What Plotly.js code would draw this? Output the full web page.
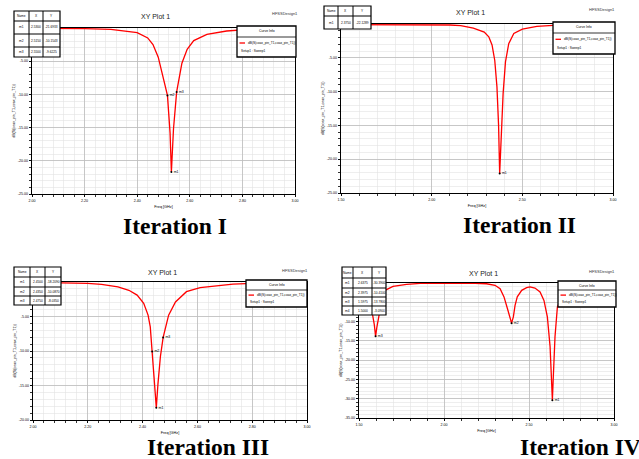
<!DOCTYPE html>
<html><head><meta charset="utf-8">
<script src="https://cdn.plot.ly/plotly-3.0.1.min.js"></script>
<style>html,body{margin:0;padding:0;background:#fff;overflow:hidden}#chart{width:639px;height:459px}</style>
</head><body><div id="chart"></div>
<script>
// ---------- data ----------
// Iteration I
const freq1 = [2.00, 2.10, 2.20, 2.30, 2.35, 2.40, 2.44, 2.46, 2.48, 2.50, 2.515, 2.525, 2.530, 2.538, 2.550, 2.57, 2.59, 2.615, 2.665, 2.74, 2.80, 2.90, 3.00];
const s11_1 = [-0.05, -0.06, -0.1, -0.2, -0.4, -0.7, -1.5, -2.5, -4.4, -7.8, -10.15, -15.8, -21.69, -15.2, -9.62, -5.3, -3.2, -1.9, -0.95, -0.45, -0.28, -0.15, -0.1];
const mkName1 = ['m1', 'm2', 'm3'];
const mkX1 = [2.5300, 2.5150, 2.5500];
const mkY1 = [-21.6933, -10.1543, -9.6225];
const xt1 = [2.0, 2.2, 2.4, 2.6, 2.8, 3.0];
const yt1 = [-5, -10, -15, -20, -25];

// Iteration II
const freq2 = [1.50, 1.70, 1.90, 2.00, 2.10, 2.16, 2.23, 2.29, 2.315, 2.333, 2.348, 2.360, 2.369, 2.375, 2.384, 2.394, 2.407, 2.425, 2.453, 2.50, 2.58, 2.67, 2.80, 3.00];
const s11_2 = [-0.1, -0.1, -0.1, -0.1, -0.15, -0.25, -0.6, -1.2, -1.9, -3.1, -5.4, -9.3, -15.0, -22.13, -16.2, -10.3, -5.6, -2.9, -1.4, -0.75, -0.35, -0.2, -0.12, -0.1];
const mkName2 = ['m1'];
const mkX2 = [2.3750];
const mkY2 = [-22.1289];
const xt2 = [1.5, 2.0, 2.5, 3.0];
const yt2 = [-5, -10, -15, -20, -25];

// Iteration III
const freq3 = [2.00, 2.12, 2.20, 2.25, 2.31, 2.35, 2.38, 2.404, 2.42, 2.428, 2.435, 2.443, 2.450, 2.456, 2.465, 2.475, 2.495, 2.52, 2.56, 2.61, 2.67, 2.73, 2.80, 2.90, 3.00];
const s11_3 = [-0.05, -0.1, -0.2, -0.35, -0.7, -1.2, -1.9, -3.1, -4.8, -6.5, -10.09, -14.0, -18.21, -14.8, -10.8, -8.03, -4.8, -2.9, -1.4, -0.8, -0.5, -0.3, -0.2, -0.12, -0.1];
const mkName3 = ['m1', 'm2', 'm3'];
const mkX3 = [2.4500, 2.4350, 2.4750];
const mkY3 = [-18.2090, -10.0870, -8.0350];
const xt3 = [2.0, 2.2, 2.4, 2.6, 2.8, 3.0];
const yt3 = [-5, -10, -15, -20];

// Iteration IV
const freq4 = [1.50, 1.54, 1.565, 1.58, 1.59, 1.5975, 1.605, 1.62, 1.633, 1.653, 1.70, 1.78, 1.86, 2.00, 2.15, 2.25, 2.30, 2.33, 2.353, 2.373, 2.388, 2.3975, 2.408, 2.418, 2.431, 2.457, 2.486, 2.506, 2.535, 2.565, 2.588, 2.608, 2.624, 2.633, 2.6375, 2.643, 2.653, 2.667, 2.70, 2.75, 2.85, 3.00];
const s11_4 = [-3.09, -4.6, -6.5, -8.3, -10.8, -13.78, -11.5, -7.9, -3.6, -1.9, -0.9, -0.35, -0.1, 0, 0, -0.2, -0.6, -1.5, -3.6, -6.6, -9.2, -10.41, -8.8, -5.8, -3.6, -1.9, -1.2, -1.0, -1.3, -2.3, -4.5, -8.8, -16.5, -26.0, -30.39, -24.3, -13.9, -6.2, -3.0, -1.5, -0.7, -0.4];
const mkName4 = ['m1', 'm2', 'm3', 'm4'];
const mkX4 = [2.6375, 2.3975, 1.5975, 1.5000];
const mkY4 = [-30.3900, -10.4100, -13.7800, -3.0900];
const xt4 = [1.5, 2.0, 2.5, 3.0];
const yt4 = [-5, -10, -15, -20, -25, -30, -35];

const captions = ['Iteration I', 'Iteration II', 'Iteration III', 'Iteration IV'];
const curveName = 'dB(S(coax_pin_T1,coax_pin_T1))';

// ---------- helpers (pixel -> paper) ----------
const W = 639, H = 459;
const px = x => x / W;
const py = y => 1 - y / H;
const FONT = 'Arial, Liberation Sans, sans-serif';
function ann(x, y, text, size, opts) {
  return Object.assign({xref: 'paper', yref: 'paper', x: px(x), y: py(y), text: text, showarrow: false,
    xanchor: 'center', yanchor: 'middle', font: {size: size, family: FONT, color: '#000'}}, opts || {});
}

const panels = [
  {f: freq1, s: s11_1, mn: mkName1, mx: mkX1, my: mkY1, xt: xt1, yt: yt1, xr: [2, 3], yr: [-25, 0], xminor: 0.04,
   box: [32, 295, 28, 194], title: [155, 16], design: [300, 14],
   table: {x: [14, 29, 43, 60], y: [11, 21, 34, 47, 57]},
   legend: [237, 296, 26, 57, 37], cap: [175, 226]},
  {f: freq2, s: s11_2, mn: mkName2, mx: mkX2, my: mkY2, xt: xt2, yt: yt2, xr: [1.5, 3], yr: [-25, 0], xminor: 0.1,
   box: [341, 613, 24, 193], title: [470, 12], design: [617, 10],
   table: {x: [324, 338, 353, 371], y: [6, 16, 29]},
   legend: [553, 615, 22, 54, 33], cap: [519, 225]},
  {f: freq3, s: s11_3, mn: mkName3, mx: mkX3, my: mkY3, xt: xt3, yt: yt3, xr: [2, 3], yr: [-20, 0], xminor: 0.04,
   box: [33, 307, 282, 420], title: [162, 272], design: [310, 270],
   table: {x: [14, 30, 45, 61], y: [267, 277, 287, 296, 305]},
   legend: [246, 307, 280, 307, 290], cap: [208, 447]},
  {f: freq4, s: s11_4, mn: mkName4, mx: mkX4, my: mkY4, xt: xt4, yt: yt4, xr: [1.5, 3], yr: [-35, 0], xminor: 0.1,
   box: [359, 614, 283, 418], title: [483, 273], design: [617, 271],
   table: {x: [342, 353, 372, 386], y: [267, 278, 288, 297, 306, 315]},
   legend: [558, 616, 281, 307, 290], cap: [580, 447]}
];

const traces = [];
const layout = {
  width: W, height: H, margin: {l: 0, r: 0, t: 0, b: 0},
  paper_bgcolor: '#fff', plot_bgcolor: '#fff', showlegend: false,
  font: {family: FONT, size: 4, color: '#000'},
  shapes: [], annotations: []
};

panels.forEach((p, i) => {
  const k = i === 0 ? '' : String(i + 1);
  const xa = 'x' + k, ya = 'y' + k;
  traces.push({x: p.f, y: p.s, xaxis: xa, yaxis: ya, type: 'scatter', mode: 'lines',
    line: {color: '#ff0000', width: 1.3}, hoverinfo: 'skip'});
  traces.push({x: p.mx, y: p.my, xaxis: xa, yaxis: ya, type: 'scatter', mode: 'markers+text',
    text: p.mn, textposition: 'middle right', textfont: {size: 3.5, color: '#000', family: FONT},
    marker: {size: 2, color: '#000'}, hoverinfo: 'skip', cliponaxis: false});

  const common = {
    showline: true, linecolor: '#000', linewidth: 1.3, mirror: true,
    ticks: 'outside', ticklen: 2, tickwidth: 0.8, tickcolor: '#000',
    tickfont: {size: 3.6, family: FONT, color: '#000'},
    showgrid: true, gridcolor: '#bdbdbd', gridwidth: 0.8, zeroline: false, fixedrange: true
  };
  layout['xaxis' + k] = Object.assign({}, common, {
    domain: [px(p.box[0]), px(p.box[1])], range: p.xr, anchor: ya,
    tickmode: 'array', tickvals: p.xt, ticktext: p.xt.map(v => v.toFixed(2)),
    minor: {tick0: p.xr[0], dtick: p.xminor, showgrid: true, gridcolor: '#e3e3e3', gridwidth: 0.6,
            ticks: 'outside', ticklen: 1.2, tickcolor: '#000'},
    title: {text: 'Freq [GHz]', font: {size: 3.8, family: FONT}, standoff: 3}
  });
  layout['yaxis' + k] = Object.assign({}, common, {
    domain: [py(p.box[3]), py(p.box[2])], range: p.yr, anchor: xa,
    tickmode: 'array', tickvals: p.yt, ticktext: p.yt.map(v => v.toFixed(2)),
    minor: {tick0: 0, dtick: 1, showgrid: true, gridcolor: '#e3e3e3', gridwidth: 0.6,
            ticks: 'outside', ticklen: 1.5, tickcolor: '#000'},
    title: {text: curveName, font: {size: 3.6, family: FONT}, standoff: 2}
  });

  // plot title and design name
  layout.annotations.push(ann(p.title[0], p.title[1], 'XY Plot 1', 7, {font: {size: 7, family: FONT, color: '#222'}}));
  layout.annotations.push(ann(p.design[0], p.design[1], 'HFSSDesign1', 4, {xanchor: 'right', font: {size: 4, family: FONT, color: '#333'}}));

  // marker table
  const t = p.table;
  const tb = t.y[t.y.length - 1];
  layout.shapes.push({type: 'rect', xref: 'paper', yref: 'paper', layer: 'above',
    x0: px(t.x[0]), x1: px(t.x[3]), y0: py(tb), y1: py(t.y[0]),
    fillcolor: '#fff', line: {color: '#000', width: 1.2}});
  for (let c = 1; c < 3; c++) layout.shapes.push({type: 'line', xref: 'paper', yref: 'paper', layer: 'above',
    x0: px(t.x[c]), x1: px(t.x[c]), y0: py(tb), y1: py(t.y[0]), line: {color: '#000', width: 1}});
  for (let r = 1; r < t.y.length - 1; r++) layout.shapes.push({type: 'line', xref: 'paper', yref: 'paper', layer: 'above',
    x0: px(t.x[0]), x1: px(t.x[3]), y0: py(t.y[r]), y1: py(t.y[r]), line: {color: '#000', width: 1}});
  const head = ['Name', 'X', 'Y'];
  for (let c = 0; c < 3; c++) {
    const cx = (t.x[c] + t.x[c + 1]) / 2;
    layout.annotations.push(ann(cx, (t.y[0] + t.y[1]) / 2, head[c], 3.2));
    for (let r = 0; r < p.mn.length; r++) {
      const val = c === 0 ? p.mn[r] : (c === 1 ? p.mx[r].toFixed(4) : p.my[r].toFixed(4));
      layout.annotations.push(ann(cx, (t.y[r + 1] + t.y[r + 2]) / 2, val, 3.2));
    }
  }

  // curve info box
  const L = p.legend;
  layout.shapes.push({type: 'rect', xref: 'paper', yref: 'paper', layer: 'above',
    x0: px(L[0]), x1: px(L[1]), y0: py(L[3]), y1: py(L[2]), fillcolor: '#fff', line: {color: '#000', width: 1.3}});
  layout.shapes.push({type: 'line', xref: 'paper', yref: 'paper', layer: 'above',
    x0: px(L[0]), x1: px(L[1]), y0: py(L[4]), y1: py(L[4]), line: {color: '#000', width: 0.8}});
  layout.annotations.push(ann((L[0] + L[1]) / 2, (L[2] + L[4]) / 2, 'Curve Info', 3.4));
  const ly = L[4] + (L[3] - L[4]) * 0.3;
  layout.shapes.push({type: 'line', xref: 'paper', yref: 'paper', layer: 'above',
    x0: px(L[0] + 2.5), x1: px(L[0] + 8), y0: py(ly), y1: py(ly), line: {color: '#ff0000', width: 1.3}});
  layout.annotations.push(ann(L[0] + 9, ly, curveName, 3.2, {xanchor: 'left'}));
  layout.annotations.push(ann(L[0] + 2, L[4] + (L[3] - L[4]) * 0.72, 'Setup1 : Sweep1', 3.2, {xanchor: 'left'}));

  // caption
  layout.annotations.push(ann(p.cap[0], p.cap[1], '<b>' + captions[i] + '</b>', 23.5,
    {font: {size: 23.5, family: 'Liberation Serif, Times New Roman, serif', color: '#000'}}));
});

Plotly.newPlot('chart', traces, layout, {staticPlot: true, displayModeBar: false});
</script></body></html>
